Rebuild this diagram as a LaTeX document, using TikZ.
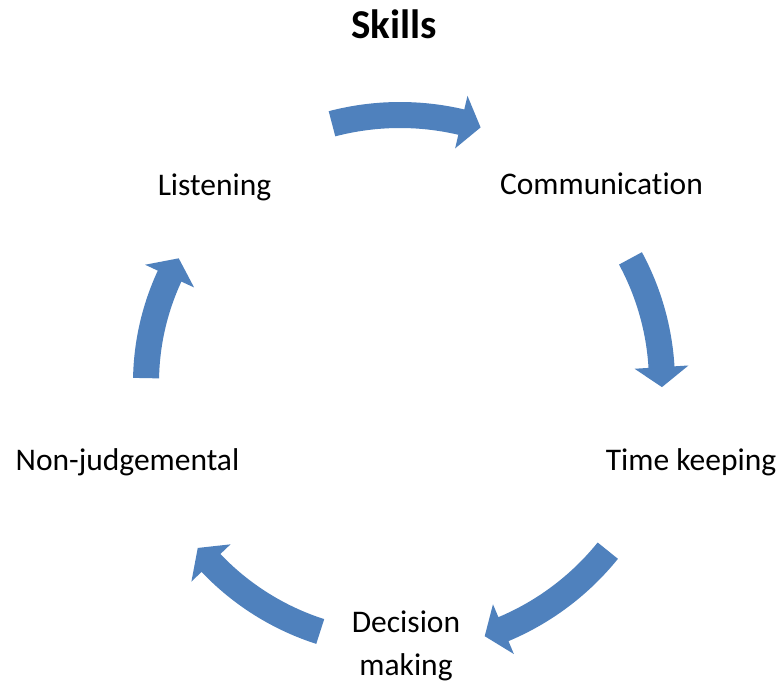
\documentclass[tikz,border=0pt]{standalone}
\usepackage{fontspec}
\setmainfont[Ligatures=CommonOff]{Carlito}
\definecolor{arrowblue}{HTML}{4F81BD}

% Curved block arrow around the current origin, running clockwise.
% #1 = radius of the mid line, #2 = tail angle, #3 = tip angle
\newcommand\cyclearrow[3]{%
  \pgfmathsetmacro\headang{#3+1146/#1}%
  \pgfmathsetmacro\bodyout{#1+13}\pgfmathsetmacro\bodyin{#1-13}%
  \pgfmathsetmacro\headout{#1+27}\pgfmathsetmacro\headin{#1-27}%
  \fill[arrowblue] (#2:\bodyout)
    arc[start angle=#2, end angle=\headang, radius=\bodyout]
    -- (\headang:\headout) -- (#3:#1) -- (\headang:\headin)
    -- (\headang:\bodyin)
    arc[start angle=\headang, end angle=#2, radius=\bodyin] -- cycle;}

\begin{document}
\begin{tikzpicture}[x=1pt,y=1pt,
  skilltext/.style={font=\fontsize{31.5}{43}\selectfont, anchor=base, inner sep=0pt},
  titletext/.style={font=\fontsize{41}{48}\selectfont\bfseries, anchor=base, inner sep=0pt}]
  \fill[white] (0,0) rectangle (781,-684);

  % heading
  \node[titletext] (title) at (394,-39) {Skills};

  % the five skills round the cycle
  \node[skilltext] (listen) at (214.5,-196) {Listening};
  \node[skilltext] (comm)   at (601.5,-195) {Communication};
  \node[skilltext] (time)   at (691,-470)   {Time keeping};
  \node[skilltext] (nonj)   at (127.5,-470) {Non-judgemental};
  \node[skilltext, align=center] (decide) at (406,-675) {Decision\\making};

  % curved arrows between them
  \begin{scope}[shift={(400,-383)}]
    \cyclearrow{268}{104.7}{72.5}
    \cyclearrow{262}{28.4}{-0.9}
    \cyclearrow{267}{-38.9}{-71.5}
    \cyclearrow{261}{-107.8}{-140.8}
    \cyclearrow{254}{178.9}{150.6}
  \end{scope}
\end{tikzpicture}
\end{document}
